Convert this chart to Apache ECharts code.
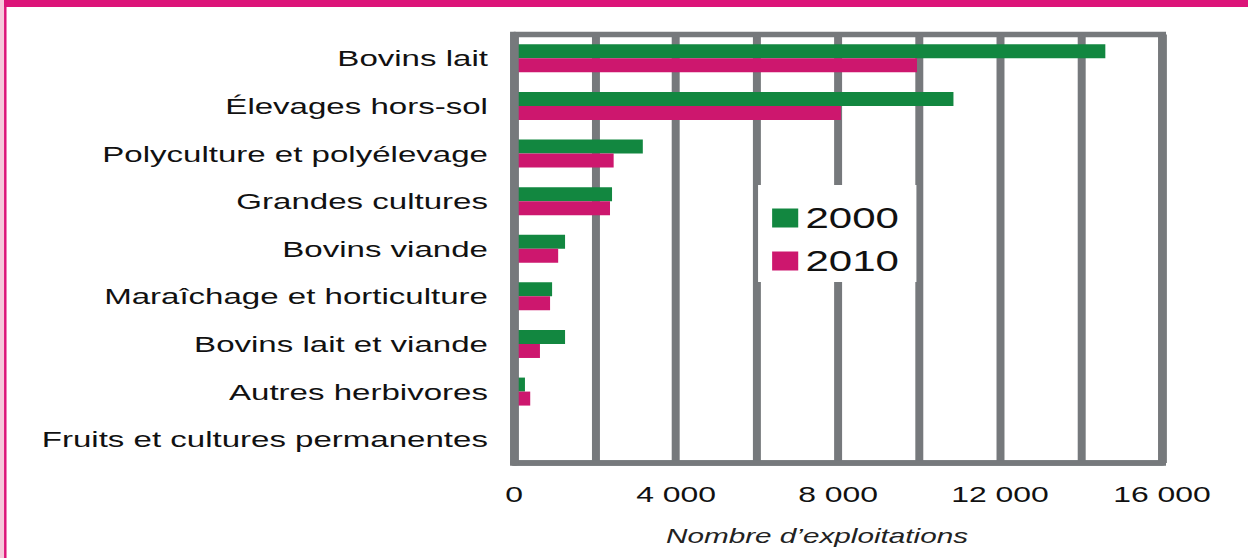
<!DOCTYPE html>
<html>
<head>
<meta charset="utf-8">
<script src="https://cdn.jsdelivr.net/npm/echarts@6/dist/echarts.min.js"></script>
<style>
  html, body { margin: 0; padding: 0; background: #fff; overflow: hidden; }
  /* the reference is stretched horizontally, so the chart is drawn narrow and scaled */
  #chart { width: 861px; height: 558px; transform: scaleX(1.45); transform-origin: 0 0; }
</style>
</head>
<body>
<div id="chart"></div>
<script>
const categories = [
  "Bovins lait",
  "Élevages hors-sol",
  "Polyculture et polyélevage",
  "Grandes cultures",
  "Bovins viande",
  "Maraîchage et horticulture",
  "Bovins lait et viande",
  "Autres herbivores",
  "Fruits et cultures permanentes"
]
const values2000 = [14600, 10850, 3180, 2420, 1260, 940, 1260, 270, 0]
const values2010 = [9950, 8070, 2460, 2370, 1090, 890, 640, 400, 0]
const tickValues = [0, 4000, 8000, 12000, 16000]
const tickLabels = ["0", "4 000", "8 000", "12 000", "16 000"]

const gray = "#76797c"
const green = "#128740"
const pink = "#cd176e"
const font = "Liberation Sans"

const chart = echarts.init(document.getElementById("chart"), null, { renderer: "svg" })

chart.setOption({
  animation: false,
  textStyle: { fontFamily: font },
  graphic: [
    { type: "rect", shape: { x: 0, y: 0, width: 861, height: 7 }, style: { fill: "#dc1479" }, z: 10 },
    { type: "rect", shape: { x: 0, y: 0, width: 2.8, height: 558 }, style: { fill: "#f6c8db" }, z: 10 },
    { type: "rect", shape: { x: 2.8, y: 0, width: 1.7, height: 558 }, style: { fill: "#dc1479" }, z: 10 }
  ],
  grid: {
    left: 354.5, right: 59.6, top: 34.5, bottom: 95,
    show: true, borderColor: gray, borderWidth: 5.5, backgroundColor: "transparent"
  },
  legend: {
    orient: "vertical",
    left: 522.8,
    top: 185,
    backgroundColor: "#fff",
    padding: [18, 12, 6, 9.7],
    icon: "rect",
    itemWidth: 18,
    itemHeight: 19,
    itemGap: 13,
    textStyle: { fontSize: 29, lineHeight: 30, color: "#111", fontFamily: font },
    data: ["2000", "2010"]
  },
  xAxis: {
    type: "value",
    min: 0,
    max: 16000,
    interval: 2000,
    axisLine: { show: true, lineStyle: { color: gray, width: 5.5 } },
    axisTick: { show: false },
    splitLine: { show: true, lineStyle: { color: gray, width: 5.5 } },
    axisLabel: {
      fontSize: 22,
      color: "#111",
      margin: 20,
      formatter: v => {
        const i = tickValues.indexOf(v)
        return i < 0 ? "" : tickLabels[i]
      }
    },
    name: "Nombre d’exploitations",
    nameLocation: "middle",
    nameGap: 63,
    nameTextStyle: { fontStyle: "italic", fontSize: 20.5, color: "#222", padding: [0, 29, 0, 0] }
  },
  yAxis: {
    type: "category",
    inverse: true,
    data: categories,
    z: 5,
    axisLine: { show: true, lineStyle: { color: gray, width: 5.5 } },
    axisTick: { show: false },
    axisLabel: { fontSize: 22.8, color: "#111", margin: 18 }
  },
  series: [
    { name: "2000", type: "bar", barWidth: 14, barGap: "0%", itemStyle: { color: green }, data: values2000 },
    { name: "2010", type: "bar", barWidth: 14, barGap: "0%", itemStyle: { color: pink }, data: values2010 }
  ]
})
</script>
</body>
</html>
